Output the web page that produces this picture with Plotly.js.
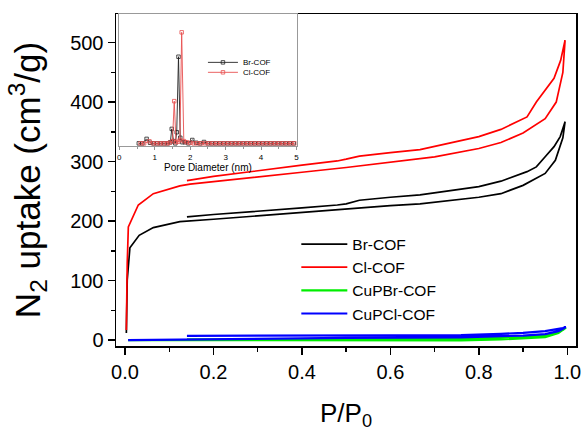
<!DOCTYPE html>
<html>
<head>
<meta charset="utf-8">
<script src="https://cdn.plot.ly/plotly-3.0.1.min.js"></script>
<style>html,body{margin:0;padding:0;background:#fff;}#chart{width:582px;height:432px;}</style>
</head>
<body>
<div id="chart"></div>
<script>
// ---- Main isotherms (adsorption then desorption) ----
const brX = [0.003,0.004,0.005,0.011,0.032,0.064,0.124,0.2,0.3,0.4,0.5,0.6,0.667,0.7,0.8,0.85,0.9,0.95,0.973,0.99,0.995,
             0.984,0.97,0.95,0.93,0.909,0.85,0.8,0.7,0.667,0.6,0.53,0.5,0.48,0.4,0.3,0.2,0.14];
const brY = [12,60,101,155,176,189,199,203,209,214,220,226,229,232,240,246,260,280,302,340,367,
             342,325,308,291,283,267,258,247,244,240,235,229,227,222,217,211,207];

const clX = [0.003,0.004,0.005,0.0075,0.03,0.064,0.124,0.147,0.2,0.3,0.4,0.5,0.6,0.667,0.7,0.8,0.85,0.9,0.95,0.975,0.99,0.995,
             0.985,0.97,0.95,0.93,0.909,0.85,0.8,0.7,0.667,0.6,0.53,0.5,0.48,0.4,0.3,0.2,0.14];
const clY = [17,80,129,190,227,246,259,262,266,274,282,290,299,305,308,322,332,348,372,400,450,504,
             470,440,420,400,375,354,342,326,320,315,309,304,301,294,285,275,268];

const cuBrX = [0.007,0.1,0.2,0.4,0.6,0.76,0.85,0.9,0.95,0.98,0.997,
               0.99,0.95,0.9,0.8,0.6,0.4,0.2,0.14];
const cuBrY = [0,0,-0.5,-1,-1,-0.5,1,2.5,5,12,21,
               17,8,5,3,2,1.5,1,1];

const cuClX = [0.007,0.1,0.14,0.3,0.5,0.76,0.85,0.9,0.95,0.98,0.997,
               0.99,0.95,0.9,0.85,0.76,0.6,0.4,0.2,0.14];
const cuClY = [0,0.8,1.5,2.5,3.5,4.5,6,7.5,10,15,22,
               20,15,12,10.5,8.4,8,7.5,7.2,7];

// ---- Inset: pore size distribution ----
const psdBrX = [0.55,0.65,0.77,0.87,0.97,1.07,1.17,1.27,1.37,1.44,1.48,1.53,1.58,1.62,1.67,1.72,1.78,1.85,1.95,2.06,2.17,2.28,2.39,2.5,2.61,2.72,2.83,2.94,3.05,3.16,3.27,3.38,3.49,3.6,3.71,3.82,3.93,4.04,4.15,4.26,4.37,4.48,4.59,4.7,4.81,4.92];
const psdBrY = [0,0,0.04,0.005,0,0,0,0,0,0.01,0.13,0.02,0,0.1,0.78,0.05,0.01,0.01,0,0.03,0.005,0,0.012,0,0,0,0,0,0,0,0,0,0,0,0,0,0,0,0,0,0,0,0,0,0,0];
const psdClX = [0.6,0.7,0.85,0.95,1.05,1.15,1.25,1.35,1.42,1.5,1.55,1.6,1.66,1.71,1.76,1.82,1.9,2.0,2.1,2.2,2.31,2.42,2.53,2.64,2.75,2.86,2.97,3.08,3.19,3.3,3.41,3.52,3.63,3.74,3.85,3.96,4.07,4.18,4.29,4.4,4.51,4.62,4.73,4.84,4.95];
const psdClY = [0,0,0.018,0,0,0,0,0,0.005,0.02,0.38,0.01,0.015,0.03,1.0,0.02,0.01,0.005,0,0,0,0,0,0,0,0,0,0,0,0,0,0,0,0,0,0,0,0,0,0,0,0,0,0,0];

const seriesNames = ['Br-COF','Cl-COF','CuPBr-COF','CuPCl-COF'];
const seriesColors = ['#000000','#ff0000','#00ee00','#0000ff'];

const FONT = 'Arial, "Liberation Sans", sans-serif';

const mainData = [[brX,brY],[clX,clY],[cuBrX,cuBrY],[cuClX,cuClY]].map((d,i)=>({
  x:d[0], y:d[1], type:'scatter', mode:'lines', name:seriesNames[i],
  line:{color:seriesColors[i], width: i<2 ? 1.7 : 2.2},
  xaxis:'x', yaxis:'y', legend:'legend'
}));

const insetData = [
  {x:psdBrX, y:psdBrY, type:'scatter', mode:'lines+markers', name:'Br-COF',
   line:{color:'#222222', width:0.9}, marker:{symbol:'square-open', size:3.5, color:'#222222', line:{width:0.8}},
   xaxis:'x2', yaxis:'y2', legend:'legend2'},
  {x:psdClX, y:psdClY, type:'scatter', mode:'lines+markers', name:'Cl-COF',
   line:{color:'#e85050', width:0.9}, marker:{symbol:'square-open', size:3.5, color:'#e85050', line:{width:0.8}},
   xaxis:'x2', yaxis:'y2', legend:'legend3'}
];

const layout = {
  width:582, height:432,
  margin:{l:116, r:6, t:14, b:86},
  paper_bgcolor:'#ffffff', plot_bgcolor:'#ffffff',
  font:{family:FONT, color:'#000'},
  showlegend:true,
  xaxis:{
    domain:[0,1], anchor:'y',
    range:[-0.0204,1.0197], dtick:0.2, tick0:0, tickformat:'.1f',
    ticks:'outside', ticklen:7, tickwidth:1.5, tickcolor:'#000',
    minor:{dtick:0.1, ticks:'outside', ticklen:4, tickwidth:1.5, tickcolor:'#000'},
    showline:true, linecolor:'#000', linewidth:1.5, mirror:true,
    showgrid:false, zeroline:false,
    tickfont:{size:20, family:FONT},
    title:{text:'P/P<sub>0</sub>', font:{size:26, family:FONT}, standoff:22}
  },
  yaxis:{
    domain:[0,1], anchor:'x',
    range:[-10,548], dtick:100, tick0:0,
    ticks:'outside', ticklen:7, tickwidth:1.5, tickcolor:'#000',
    minor:{dtick:50, ticks:'outside', ticklen:4, tickwidth:1.5, tickcolor:'#000'},
    showline:true, linecolor:'#000', linewidth:1.5, mirror:true,
    showgrid:false, zeroline:false,
    tickfont:{size:20, family:FONT},
    title:{text:'N<sub>2</sub> uptake (cm<sup>3</sup>/g)', font:{size:35, family:FONT}, standoff:19}
  },
  xaxis2:{
    domain:[0.0072,0.3924], anchor:'y2',
    range:[0,5], dtick:1, tick0:0,
    ticks:'outside', ticklen:3, tickwidth:0.8, tickcolor:'#777',
    minor:{dtick:0.5, ticks:'outside', ticklen:2, tickwidth:0.8, tickcolor:'#777'},
    showline:true, linecolor:'#999', linewidth:1, mirror:true,
    showgrid:false, zeroline:false,
    tickfont:{size:8, family:FONT},
    title:{text:'Pore Diameter (nm)', font:{size:10, family:FONT}, standoff:3}
  },
  yaxis2:{
    domain:[0.6024,1], anchor:'x2',
    range:[-0.024,1.165],
    showticklabels:false, ticks:'',
    showline:true, linecolor:'#999', linewidth:1, mirror:true,
    showgrid:false, zeroline:false
  },
  legend:{
    x:0.392, y:0.357, xanchor:'left', yanchor:'top',
    bgcolor:'rgba(0,0,0,0)', borderwidth:0,
    font:{size:15.5, family:FONT}, itemwidth:46, tracegroupgap:0
  },
  legend2:{
    x:0.189, y:0.898, xanchor:'left', yanchor:'top',
    bgcolor:'rgba(0,0,0,0)', borderwidth:0,
    font:{size:8, family:FONT}, itemwidth:30
  },
  legend3:{
    x:0.189, y:0.868, xanchor:'left', yanchor:'top',
    bgcolor:'rgba(0,0,0,0)', borderwidth:0,
    font:{size:8, family:FONT}, itemwidth:30
  }
};

Plotly.newPlot('chart', mainData.concat(insetData), layout, {displayModeBar:false, staticPlot:true});
</script>
</body>
</html>
